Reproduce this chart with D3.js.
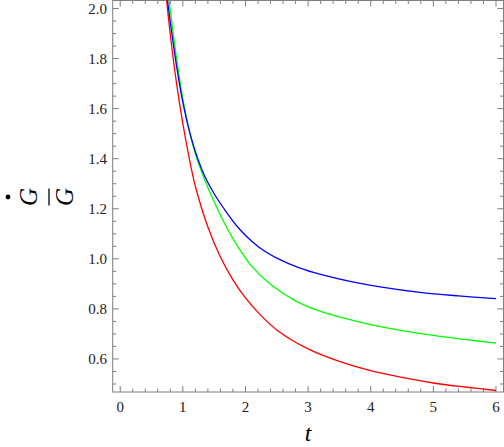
<!DOCTYPE html>
<html lang="en">
<head>
<meta charset="utf-8">
<style>
  body { margin: 0; background: #fff; }
  svg text { font-family: "Liberation Serif", "DejaVu Serif", serif; }
</style>
</head>
<body>
<script src="https://d3js.org/d3.v7.min.js"></script>
<script>
  var width = 504, height = 447;

  // values (t, G'/G)
  var blueT  = [0.70, 0.754, 0.85, 0.90, 1.0, 1.1, 1.2, 1.35, 1.5, 1.7, 1.9, 2.1, 2.284, 2.5, 2.871, 3.2, 3.669, 4.15, 4.787, 5.4, 6.0];
  var blueV  = [2.16, 2.034, 1.855, 1.77, 1.625, 1.515, 1.428, 1.33, 1.26, 1.185, 1.12, 1.07, 1.034, 1.003, 0.963, 0.938, 0.91, 0.888, 0.866, 0.852, 0.841];
  var greenT = [0.72, 0.778, 0.85, 0.90, 1.0, 1.1, 1.2, 1.35, 1.5, 1.7, 1.9, 2.1, 2.4, 2.8, 3.2, 3.669, 4.0, 4.5, 5.0, 5.5, 6.0];
  var greenV = [2.15, 2.034, 1.895, 1.80, 1.64, 1.515, 1.42, 1.315, 1.228, 1.125, 1.04, 0.97, 0.898, 0.832, 0.79, 0.757, 0.737, 0.713, 0.694, 0.678, 0.663];
  var redT   = [0.70, 0.741, 0.80, 0.90, 1.0, 1.1, 1.2, 1.4, 1.6, 1.8, 2.0, 2.25, 2.5, 3.0, 3.5, 4.0, 4.5, 5.0, 5.5, 6.0];
  var redV   = [2.15, 2.034, 1.895, 1.70, 1.54, 1.405, 1.29, 1.127, 1.007, 0.916, 0.844, 0.773, 0.716, 0.640, 0.590, 0.553, 0.526, 0.504, 0.488, 0.474];

  var xTicks = [0, 1, 2, 3, 4, 5, 6];
  var yTicks = [0.6, 0.8, 1.0, 1.2, 1.4, 1.6, 1.8, 2.0];

  var pLeft = 112.7, pRight = 503.5, pTop = 0.5, pBottom = 392;

  var x = d3.scaleLinear().domain([-0.12, 6.12]).range([pLeft, pRight]);
  var y = d3.scaleLinear().domain([0.468, 2.032]).range([pBottom, pTop]);

  var svg = d3.select('body').append('svg')
    .attr('width', width).attr('height', height);

  svg.append('defs').append('clipPath').attr('id', 'clip')
    .append('rect').attr('x', pLeft).attr('y', pTop)
    .attr('width', pRight - pLeft).attr('height', pBottom - pTop);

  var frameColor = '#7f7f7f';

  // minor ticks
  var xMinor = d3.range(0, 6.001, 0.2);
  var yMinor = d3.range(0.5, 2.001, 0.05);

  function tickLen(v, step) {
    return Math.abs(v / step - Math.round(v / step)) < 1e-6 ? 6 : 3.5;
  }

  var g = svg.append('g').attr('stroke', frameColor).attr('stroke-width', 1);

  xMinor.forEach(function (v) {
    var len = tickLen(v, 1);
    var px = x(v);
    g.append('line').attr('x1', px).attr('x2', px).attr('y1', pBottom).attr('y2', pBottom - len);
    g.append('line').attr('x1', px).attr('x2', px).attr('y1', pTop).attr('y2', pTop + len);
  });
  yMinor.forEach(function (v) {
    var len = tickLen(v, 0.2);
    var py = y(v);
    if (py > pBottom || py < pTop) return;
    g.append('line').attr('y1', py).attr('y2', py).attr('x1', pLeft).attr('x2', pLeft + len);
    g.append('line').attr('y1', py).attr('y2', py).attr('x1', pRight).attr('x2', pRight - len);
  });

  svg.append('rect')
    .attr('x', pLeft).attr('y', pTop)
    .attr('width', pRight - pLeft).attr('height', pBottom - pTop)
    .attr('fill', 'none').attr('stroke', frameColor).attr('stroke-width', 1);

  // tick labels
  svg.selectAll('.xl').data(xTicks).join('text')
    .attr('x', function (d) { return x(d); })
    .attr('y', 412)
    .attr('text-anchor', 'middle')
    .attr('font-size', 15)
    .attr('fill', '#222')
    .text(function (d) { return d; });

  svg.selectAll('.yl').data(yTicks).join('text')
    .attr('x', 107)
    .attr('y', function (d) { return y(d) + 5; })
    .attr('text-anchor', 'end')
    .attr('font-size', 15)
    .attr('fill', '#222')
    .text(function (d) { return d.toFixed(1); });

  // curves
  var line = d3.line()
    .x(function (d) { return x(d[0]); })
    .y(function (d) { return y(d[1]); })
    .curve(d3.curveCatmullRom.alpha(0.5));

  var series = [
    { t: redT, v: redV, color: '#ff0000' },
    { t: greenT, v: greenV, color: '#00ff00' },
    { t: blueT, v: blueV, color: '#0000ff' }
  ];

  svg.append('g').attr('clip-path', 'url(#clip)')
    .selectAll('path').data(series).join('path')
    .attr('fill', 'none')
    .attr('stroke', function (d) { return d.color; })
    .attr('stroke-width', 1.3)
    .attr('d', function (d) {
      return line(d.t.map(function (t, i) { return [t, d.v[i]]; }));
    });

  // axis labels
  svg.append('text')
    .attr('x', x(3)).attr('y', 441)
    .attr('text-anchor', 'middle')
    .attr('font-size', 24)
    .attr('font-style', 'italic')
    .text('t');

  var yl = svg.append('g').attr('transform', 'translate(0,197) rotate(-90)');
  yl.append('text')
    .attr('x', 0).attr('y', 37)
    .attr('text-anchor', 'middle')
    .attr('font-size', 25)
    .attr('font-style', 'italic')
    .text('G');
  yl.append('circle').attr('cx', 0).attr('cy', 8).attr('r', 2.4).attr('fill', '#000');
  yl.append('line')
    .attr('x1', -8.5).attr('x2', 8.5).attr('y1', 49).attr('y2', 49)
    .attr('stroke', '#000').attr('stroke-width', 1.3);
  yl.append('text')
    .attr('x', 0).attr('y', 73)
    .attr('text-anchor', 'middle')
    .attr('font-size', 25)
    .attr('font-style', 'italic')
    .text('G');
</script>
</body>
</html>
